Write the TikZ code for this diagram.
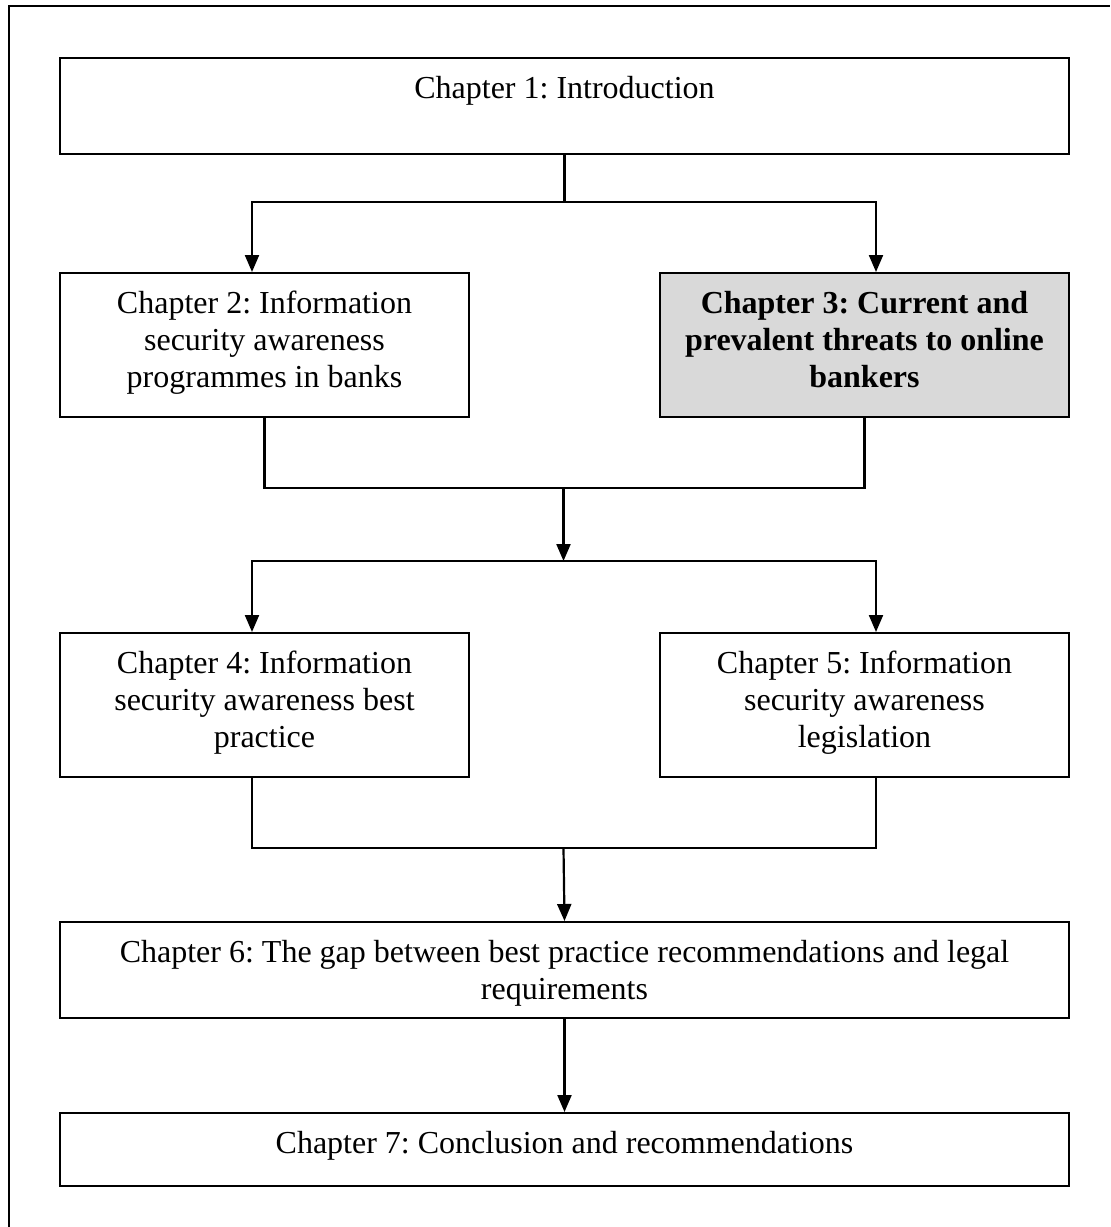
\documentclass[tikz,border=0pt]{standalone}
\usepackage{fontspec}
\setmainfont{Liberation Serif}
\usetikzlibrary{arrows.meta,calc}
\definecolor{boxgray}{HTML}{D9D9D9}
\frenchspacing
\newcommand{\chtext}[3]{\parbox[t][#2][t]{#1}{\frenchspacing\centering\rule{0pt}{20pt}#3\par}}
\begin{document}
\begin{tikzpicture}[x=0.5pt,y=-0.5pt,
  chbox/.style={draw, line width=1pt, inner sep=0pt, anchor=north west, font=\fontsize{16pt}{18.5pt}\selectfont},
  conn/.style={line width=1.1pt},
  arr/.style={line width=1.1pt, -{Triangle[length=8.5pt,width=7pt]}}]
\useasboundingbox (0,0) rectangle (1110,1227);
\draw[line width=1pt] (9,1227) -- (9,6) -- (1110,6);
% boxes
\node[chbox] (c1) at (59,57) {\chtext{504.5pt}{48pt}{Chapter 1: Introduction}};
\node[chbox] (c2) at (59,272) {\chtext{204.5pt}{72pt}{Chapter 2: Information\\ security awareness\\ programmes in banks}};
\node[chbox, fill=boxgray] (c3) at (659,272) {\chtext{204.5pt}{72pt}{\bfseries Chapter 3: Current and\\ prevalent threats to online\\ bankers}};
\node[chbox] (c4) at (59,632) {\chtext{204.5pt}{72pt}{Chapter 4: Information\\ security awareness best\\ practice}};
\node[chbox] (c5) at (659,632) {\chtext{204.5pt}{72pt}{Chapter 5: Information\\ security awareness\\ legislation}};
\node[chbox] (c6) at (59,921) {\chtext{504.5pt}{48pt}{Chapter 6: The gap between best practice recommendations and legal\\ requirements}};
\node[chbox] (c7) at (59,1112) {\chtext{504.5pt}{36.5pt}{Chapter 7: Conclusion and recommendations}};
% junctions
\coordinate (j1) at ($(c1.south)+(0,47)$);
\coordinate (j2) at (563.5,488);
\coordinate (j3) at (563.5,561);
\coordinate (j4) at (563.5,848);
\coordinate (t2) at ($(c2.north west)+(193,0)$);
\coordinate (t3) at ($(c3.north west)+(217,0)$);
\coordinate (t4) at ($(c4.north west)+(193,0)$);
\coordinate (t5) at ($(c5.north west)+(217,0)$);
\coordinate (b4) at ($(c4.south west)+(193,0)$);
\coordinate (b5) at ($(c5.south west)+(217,0)$);
% connectors
\draw[conn] (c1.south) -- (j1);
\draw[arr] (j1) -| (t2);
\draw[arr] (j1) -| (t3);
\draw[conn] (c2.south) |- (j2) -| (c3.south);
\draw[arr] (j2) -- (j3);
\draw[arr] (j3) -| (t4);
\draw[arr] (j3) -| (t5);
\draw[conn] (b4) |- (j4) -| (b5);
\draw[arr] (j4) -- (c6.north);
\draw[arr] (c6.south) -- (c7.north);
\end{tikzpicture}
\end{document}
